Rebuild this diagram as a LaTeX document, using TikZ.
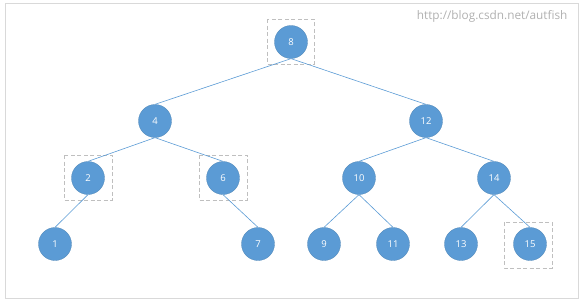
\documentclass[tikz,border=0pt]{standalone}
\usepackage{fontspec}
\setmainfont{Open Sans}
\definecolor{nodeblue}{HTML}{5B9BD5}
\definecolor{framegray}{HTML}{D9D9D9}
\definecolor{dashgray}{HTML}{BFBFBF}
\definecolor{wmgray}{HTML}{B0B0B0}
\begin{document}
\begin{tikzpicture}[x=1pt,y=-1pt,
  tnode/.style={circle,fill=nodeblue,draw=nodeblue!85!black,line width=0.3pt,minimum size=33pt,inner sep=0pt,text=white,font=\fontsize{9.5}{11}\selectfont},
  edge/.style={draw=nodeblue,line width=0.6pt},
  markbox/.style={draw=dashgray,dash pattern=on 4pt off 2.5pt,line width=0.9pt}]
\useasboundingbox (0,0) rectangle (585,306);
\draw[framegray,line width=0.9pt] (5,3) rectangle (578,298);
\node[text=wmgray,anchor=east,font=\fontsize{11.8}{13}\selectfont] (wm) at (571,16) {http://blog.csdn.net/autfish};
% dashed boxes
\draw[markbox] (267,19) rectangle (314,64);
\draw[markbox] (64,155) rectangle (112,200);
\draw[markbox] (199,155) rectangle (247,200);
\draw[markbox] (504,222) rectangle (552,268);
% nodes
\node[tnode] (n8) at (291,42) {8};
\node[tnode] (n4) at (155,121) {4};
\node[tnode] (n12) at (426,121) {12};
\node[tnode] (n2) at (88,178) {2};
\node[tnode] (n6) at (223,178) {6};
\node[tnode] (n10) at (359,178) {10};
\node[tnode] (n14) at (494,178) {14};
\node[tnode] (n1) at (55,244) {1};
\node[tnode] (n7) at (258,244) {7};
\node[tnode] (n9) at (324,244) {9};
\node[tnode] (n11) at (393,244) {11};
\node[tnode] (n13) at (461,244) {13};
\node[tnode] (n15) at (530,244) {15};
% edges
\path[edge] (n8.south) -- (n4.north);
\path[edge] (n8.south) -- (n12.north);
\path[edge] (n4.south) -- (n2.north);
\path[edge] (n4.south) -- (n6.north);
\path[edge] (n12.south) -- (n10.north);
\path[edge] (n12.south) -- (n14.north);
\path[edge] (n2.south) -- (n1.north);
\path[edge] (n6.south) -- (n7.north);
\path[edge] (n10.south) -- (n9.north);
\path[edge] (n10.south) -- (n11.north);
\path[edge] (n14.south) -- (n13.north);
\path[edge] (n14.south) -- (n15.north);
\end{tikzpicture}
\end{document}
